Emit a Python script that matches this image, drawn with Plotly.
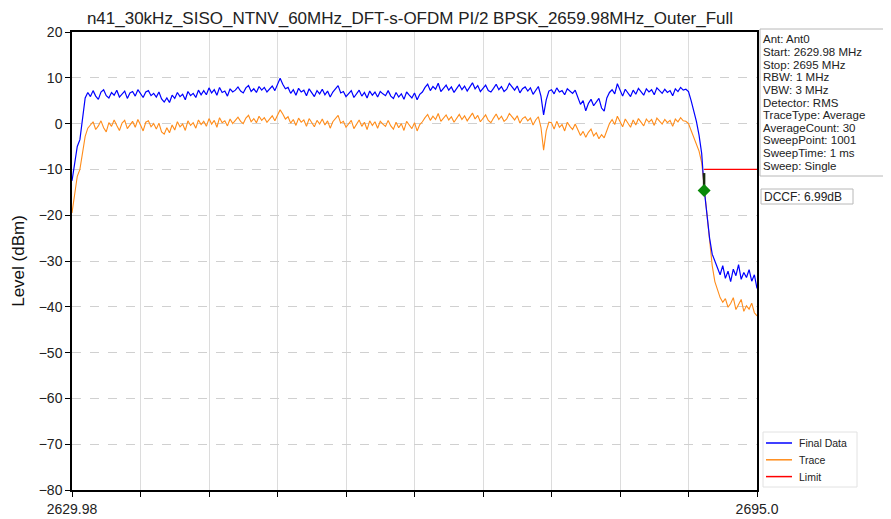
import numpy as np
import plotly.graph_objects as go

TITLE = "n41_30kHz_SISO_NTNV_60MHz_DFT-s-OFDM PI/2 BPSK_2659.98MHz_Outer_Full"
F_START = 2629.98
F_STOP = 2695.0

# Final Data (blue) level in dBm, one reading every 0.25 MHz across the sweep
final_data = [
    -12.5, -9.0, -5.0, -3.5, 1.5, 5.6,
    6.8, 5.9, 7.2, 6.0, 5.3, 6.9, 7.4, 6.1, 5.6, 6.8,
    6.2, 7.3, 5.8, 6.5, 7.1, 5.5, 6.7, 7.0, 6.0, 7.4,
    6.4, 5.7, 6.9, 7.2, 6.1, 6.6,
    5.8, 6.9, 5.4, 4.7, 5.6, 4.6, 6.2, 5.5, 6.8, 5.9,
    6.4, 5.2, 7.0, 6.1, 6.6, 5.7, 7.3, 6.3,
    7.2, 6.3, 7.8, 6.7, 7.4, 6.2, 7.9, 6.8, 7.1, 6.0,
    7.6, 6.9, 7.3,
    8.0, 7.1, 6.7, 7.8, 8.3, 7.0, 7.6, 6.8, 8.1, 7.3,
    7.9, 6.9, 7.5, 8.2, 7.2,
    8.4, 9.9, 8.6, 7.6,
    7.9, 6.6, 7.4, 6.2, 7.7, 6.9, 7.3, 6.1, 7.6, 6.8,
    5.9, 7.2, 6.5, 7.5,
    6.3, 7.1, 5.8, 6.9, 7.5, 8.3, 6.7, 7.0, 5.9, 6.6,
    7.2, 5.7, 6.4, 7.3, 6.0, 6.8, 5.6, 7.1, 6.2, 6.9,
    5.8, 7.0, 6.5, 6.1, 7.2,
    6.0, 5.5, 6.8, 5.8, 6.5, 5.3, 6.9, 6.2, 5.6, 6.7,
    5.2, 6.4, 6.9,
    7.9, 8.6, 7.2, 8.1, 7.5, 8.8, 7.0, 7.7, 8.4, 7.3,
    8.0, 6.8, 7.6, 8.5, 7.4, 8.2, 7.1, 7.9, 8.9, 7.6,
    8.3, 7.0, 7.8, 8.4, 7.2, 6.9, 7.7, 8.6, 7.4, 8.1,
    7.0, 7.5, 8.8, 7.9, 7.3, 8.2, 6.7, 7.6, 8.0, 7.1,
    7.8, 6.4, 7.3, 8.1,
    6.0, 1.9, 5.2, 7.1,
    7.4, 6.5, 7.8, 6.9, 7.2, 6.3, 7.6, 7.0, 6.6, 7.3,
    5.5, 4.2, 5.0, 2.8, 4.4, 5.3, 3.9, 4.8, 5.5, 3.4, 2.7,
    5.6, 6.8, 7.4, 6.5, 8.7, 7.2, 6.0, 7.5, 6.8, 5.9,
    7.3, 6.4, 7.7, 7.0, 6.2, 7.6, 6.9, 7.4, 6.3, 7.8,
    7.1, 6.6, 7.5, 6.8, 7.2, 6.1, 7.6, 7.0, 7.9, 7.3,
    7.5, 7.0, 5.0, 3.0, 0.5, -2.5, -6.5, -14.6, -20.0, -25.0,
    -28.5, -30.0, -31.5, -33.0, -31.0, -33.8, -32.2, -34.5, -31.8, -33.2,
    -30.8, -34.0, -32.5, -33.6, -31.9, -34.4, -33.0, -36.0,
]

# Trace (orange) level in dBm, same sweep points
trace_data = [
    -19.5, -15.0, -11.5, -10.0, -6.0, -2.8,
    -1.0, -0.2, 0.4, -1.3, -0.5, 0.6, -0.9, -1.8, 0.2, -0.6,
    0.8, -0.4, -1.5, 0.1, 0.7, -1.1, -0.2, 0.5, -0.8, 0.9,
    -0.3, -1.6, 0.3, 0.6, -0.7, 0.0,
    -1.2, 0.1, -1.8, -2.3, -0.9, -2.0, -0.3, -1.4, 0.4, -0.7,
    -0.1, -1.5, 0.6, -0.4, 0.2, -1.0, 0.8, -0.2,
    0.5, -0.6, 1.1, -0.1, 0.7, -0.8, 1.3, 0.2, 0.6, -0.5,
    1.0, 0.0, 0.7,
    1.4, 0.5, 0.0, 1.2, 1.8, 0.4, 1.1, 0.2, 1.6, 0.7,
    1.3, 0.3, 0.9, 1.7, 0.6,
    1.9, 3.0, 2.1, 1.0,
    1.5, 0.1, 0.9, -0.4, 1.2, 0.3, 0.8, -0.6, 1.1, 0.2,
    -0.7, 0.7, -0.1, 1.0,
    -0.3, 0.6, -1.0, 0.4, 1.0, 1.8, 0.1, 0.5, -0.8, 0.0,
    0.7, -1.1, -0.2, 0.8, -0.6, 0.3, -1.3, 0.6, -0.4, 0.4,
    -1.0, 0.5, -0.1, -0.6, 0.7,
    -0.5, -1.2, 0.3, -0.9, 0.0, -1.5, 0.5, -0.3, -1.1, 0.2,
    -1.6, -0.2, 0.4,
    1.3, 2.0, 0.7, 1.6, 0.9, 2.2, 0.5, 1.2, 1.9, 0.8,
    1.5, 0.3, 1.1, 2.0, 0.9, 1.7, 0.6, 1.4, 2.3, 1.0,
    1.8, 0.4, 1.3, 1.9, 0.7, 0.2, 1.2, 2.1, 0.9, 1.6,
    0.5, 1.0, 2.2, 1.4, 0.8, 1.7, 0.1, 1.1, 1.5, 0.6,
    1.2, -0.3, 0.8, 1.5,
    -0.8, -5.8, -1.6, 0.3,
    0.2, -1.2, 0.5, -0.8, -0.2, -1.6, 0.3, -0.6, -1.3, -0.1,
    -1.4, -2.6, -1.7, -3.0, -1.9, -1.2, -2.7, -2.0, -3.3, -2.4, -3.1,
    -1.3, 0.0, 0.9, -0.2, 1.6, 0.6, -0.7, 1.0, 0.2, -0.8,
    0.8, -0.3, 1.1, 0.4, -0.5, 1.0, 0.3, 0.9, -0.4, 1.2,
    0.5, -0.1, 0.9, 0.2, 0.7, -0.6, 1.0, 0.4, 1.3, 0.6,
    0.5, 0.0, -1.5, -2.9, -4.5, -6.0, -8.5, -14.0, -20.0, -26.0,
    -31.0, -34.5, -36.5, -38.0, -39.0, -38.2, -40.1, -39.3, -38.0, -40.6,
    -39.5, -38.4, -41.0, -39.8, -40.5, -39.2, -41.3, -42.0,
]

limit_freq = [2689.98, 2695.0]
limit_level = [-10.0, -10.0]

marker_freq = [2689.98]
marker_level = [-14.6]
marker_line_level = [-10.8, -14.0]

info_lines = [
    "Ant: Ant0",
    "Start: 2629.98 MHz",
    "Stop: 2695 MHz",
    "RBW: 1 MHz",
    "VBW: 3 MHz",
    "Detector: RMS",
    "TraceType: Average",
    "AverageCount: 30",
    "SweepPoint: 1001",
    "SweepTime: 1 ms",
    "Sweep: Single",
]
dccf_text = "DCCF: 6.99dB"

legend_names = ["Final Data", "Trace", "Limit"]
legend_colors = ["#0000ff", "#ff8c1a", "#ff0000"]

freq = np.linspace(F_START, F_STOP, len(final_data))
freq_trace = np.linspace(F_START, F_STOP, len(trace_data))
xticks = list(np.linspace(F_START, F_STOP, 11))
xticktext = ["2629.98"] + [""] * 9 + ["2695.0"]

FONT = "Liberation Sans, Arial, sans-serif"

fig = go.Figure()
fig.add_trace(go.Scatter(x=freq_trace, y=trace_data, mode="lines", name="Trace",
                         line=dict(color=legend_colors[1], width=1.1)))
fig.add_trace(go.Scatter(x=freq, y=final_data, mode="lines", name="Final Data",
                         line=dict(color=legend_colors[0], width=1.2)))
fig.add_trace(go.Scatter(x=limit_freq, y=limit_level, mode="lines", name="Limit",
                         line=dict(color=legend_colors[2], width=1.2)))
fig.add_trace(go.Scatter(x=[marker_freq[0], marker_freq[0]], y=marker_line_level, mode="lines",
                         line=dict(color="#1a2a10", width=2.5), name="marker line"))
fig.add_trace(go.Scatter(x=marker_freq, y=marker_level, mode="markers", name="marker",
                         marker=dict(symbol="diamond", color="#0a8a0a", size=10)))

# The page draws the figure 8 px in from the top-left corner, so the plot box
# (screen 72..757 x 32..490) sits at figure 64..749 x 24..482.
OFF = 8
SX0, SX1, SY0, SY1 = 72, 757, 32, 490
L, T = SX0 - OFF, SY0 - OFF
R, B = 891 - (SX1 - OFF), 519 - (SY1 - OFF)
PW, PH = SX1 - SX0, SY1 - SY0


def px_x(px):
    return (px - SX0) / PW


def px_y(py):
    return (SY1 - py) / PH


shapes = [
    dict(type="rect", xref="paper", yref="paper", x0=px_x(760), x1=px_x(888), y0=px_y(176), y1=px_y(29),
         line=dict(color="#b8b8b8", width=1), fillcolor="white", layer="below"),
    dict(type="rect", xref="paper", yref="paper", x0=px_x(761), x1=px_x(853), y0=px_y(204), y1=px_y(189),
         line=dict(color="#b8b8b8", width=1), fillcolor="white", layer="below"),
    dict(type="rect", xref="paper", yref="paper", x0=px_x(763), x1=px_x(857), y0=px_y(487), y1=px_y(432),
         line=dict(color="#e2e2e2", width=1), fillcolor="white", layer="below"),
]
annotations = []
for i, line in enumerate(info_lines):
    annotations.append(dict(xref="paper", yref="paper", x=px_x(762), y=px_y(39.5 + 12.6 * i),
                            xanchor="left", yanchor="middle", showarrow=False, text=line,
                            borderpad=0, font=dict(family=FONT, size=11.5, color="#222")))
annotations.append(dict(xref="paper", yref="paper", x=px_x(763), y=px_y(196.5),
                        xanchor="left", yanchor="middle", showarrow=False, text=dccf_text,
                        borderpad=0, font=dict(family=FONT, size=12, color="#222")))
for k, (name, color) in enumerate(zip(legend_names, legend_colors)):
    yy = 443 + 16.8 * k
    shapes.append(dict(type="line", xref="paper", yref="paper", x0=px_x(766), x1=px_x(792),
                       y0=px_y(yy), y1=px_y(yy), line=dict(color=color, width=1.5)))
    annotations.append(dict(xref="paper", yref="paper", x=px_x(798), y=px_y(yy),
                            xanchor="left", yanchor="middle", showarrow=False, text=name,
                            borderpad=0, font=dict(family=FONT, size=10.5, color="#222")))

fig.update_layout(
    width=891, height=519,
    margin=dict(l=L, r=R, t=T, b=B),
    paper_bgcolor="white", plot_bgcolor="white",
    font=dict(family=FONT, color="#222"),
    title=dict(text=TITLE, x=px_x(410), xref="paper", xanchor="center",
               y=1, yref="container", yanchor="top", pad=dict(t=4, b=0, l=0, r=0),
               font=dict(size=17, family=FONT, color="#222")),
    shapes=shapes, annotations=annotations,
    showlegend=False,
)
fig.update_xaxes(range=[F_START, F_STOP], tickvals=xticks, ticktext=xticktext, automargin=False,
                 showline=True, linecolor="black", linewidth=1.5, mirror=True,
                 ticks="outside", ticklen=5, tickcolor="black", tickwidth=1.2,
                 tickfont=dict(size=14, family=FONT, color="#222"),
                 showgrid=True, gridcolor="#dcdcdc", gridwidth=1, zeroline=False)
fig.update_yaxes(range=[-80, 20], dtick=10, tick0=0, automargin=False,
                 showline=True, linecolor="black", linewidth=1.5, mirror=True,
                 ticks="outside", ticklen=5, tickcolor="black", tickwidth=1.2,
                 tickfont=dict(size=14, family=FONT, color="#222"),
                 title=dict(text="Level (dBm)", font=dict(size=17, family=FONT, color="#111"), standoff=10),
                 showgrid=True, gridcolor="#d0d0d0", gridwidth=1, griddash="dash", zeroline=False)

fig.write_html("out.html")
